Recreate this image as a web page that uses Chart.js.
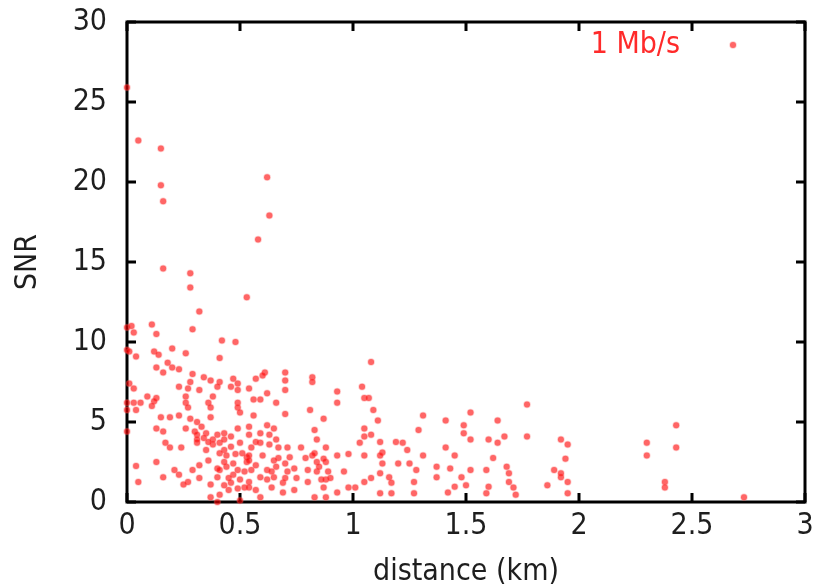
<!DOCTYPE html>
<html>
<head>
<meta charset="utf-8">
<title>SNR vs distance</title>
<script src="https://cdn.jsdelivr.net/npm/chart.js@4.4.1/dist/chart.umd.min.js"></script>
<style>
  html, body { margin: 0; padding: 0; background: #fff; }
  canvas { display: block; }
</style>
</head>
<body>
<canvas id="snrChart" width="817" height="587"></canvas>
<script>
// axis ticks
const xTicks = [0, 0.5, 1, 1.5, 2, 2.5, 3];
const yTicks = [0, 5, 10, 15, 20, 25, 30];
const seriesLabel = "1 Mb/s";

// distance (km)
const distanceKm = [
  0.00, 0.05, 0.15, 0.15, 0.16, 0.62, 0.63, 0.58, 0.16, 0.28, 0.28, 0.53, 0.32,
  0.00, 0.02, 0.03, 0.11, 0.13, 0.29, 0.42, 0.48, 0.20, 0.00, 0.01, 0.04, 0.12, 0.14, 0.26, 0.41,
  0.13, 0.18, 0.20, 0.16, 0.23, 0.29, 0.34, 0.28, 0.37, 0.41, 0.47, 0.23, 0.01, 0.03, 0.27, 0.32,
  0.40, 0.46, 0.49, 0.49, 0.09, 0.13, 0.26, 0.38, 0.00, 0.03, 0.06, 0.12, 0.26, 0.36, 0.49,
  0.11, 0.00, 0.04, 0.15, 0.19, 0.23, 0.27, 0.28, 0.37, 0.37, 0.31, 0.49, 0.50, 0.00, 0.13, 0.16,
  0.26, 0.30, 0.31, 0.33, 0.35, 0.40, 0.43, 0.46, 0.49, 0.50, 0.17, 0.19, 0.24, 0.31, 0.35, 0.38,
  0.41, 0.43, 0.44, 0.48, 0.36, 0.40, 0.41, 0.44, 0.47, 0.49, 0.53, 0.04, 0.13, 0.21, 0.23, 0.29,
  0.27, 0.32, 0.16, 0.05, 0.25, 0.37, 0.37, 0.45, 0.46, 0.50, 0.52, 0.40, 0.50, 0.41,
  0.31, 0.34, 0.38, 0.41, 0.46, 0.43, 0.47, 0.45, 0.51, 0.53, 0.40, 0.43, 0.49, 0.36, 0.43, 0.32,
  1.08, 0.61, 0.60, 0.57, 0.54, 0.70, 0.70, 0.70, 0.82, 0.82, 0.93, 0.93, 1.04, 1.05, 1.07, 0.56,
  0.59, 0.62, 0.66,
  0.56, 0.62, 0.70, 0.81, 0.87, 1.09, 0.54, 0.63, 0.65, 0.83, 0.84, 0.88, 0.59, 0.55, 0.67, 0.71,
  0.77, 1.03, 1.05, 1.05, 1.08, 1.05, 0.54, 0.60, 0.67, 0.72, 0.82, 0.84, 0.88, 0.93, 0.98, 0.55,
  0.62, 0.66, 0.71, 0.74, 0.84, 0.88, 0.96, 0.54, 0.62, 0.65, 0.69, 0.80, 0.86, 0.90, 0.98, 1.01,
  1.05, 0.54, 0.57, 0.59, 0.69, 0.83, 0.88, 0.93,
  0.54, 0.59, 0.57, 0.63, 0.66, 0.54, 0.57, 0.65, 0.70, 0.64, 0.59, 0.70, 0.64, 0.52, 0.85, 0.83,
  0.87, 0.89, 0.87, 0.79, 0.80, 0.75, 0.74,
  1.11, 1.31, 1.41, 1.29, 1.52, 1.49, 1.49, 1.52, 1.64, 1.67, 1.77, 1.77, 1.60, 1.64, 1.92, 1.95,
  1.12, 1.19, 1.22, 1.13, 1.12, 1.24, 1.31, 1.41, 1.45, 1.62, 1.13, 1.20, 1.25, 1.28, 1.37, 1.37,
  1.12, 1.16, 1.17, 1.27, 1.43, 1.48, 1.52, 1.50, 1.45, 1.59, 1.60, 1.59, 1.68, 1.69, 1.69, 1.71,
  1.72, 1.86, 1.89, 1.92, 1.95, 1.95, 1.42, 1.27, 1.12, 1.17, 1.08,
  1.94, 1.92, 2.30, 2.30, 2.38, 2.38, 2.43, 2.43, 2.73
];

// SNR, same order as distanceKm
const snrValues = [
  25.9, 22.6, 22.1, 19.8, 18.8, 20.3, 17.9, 16.4, 14.6, 14.3, 13.4, 12.8, 11.9,
  10.9, 11.0, 10.6, 11.1, 10.5, 10.8, 10.1, 10.0, 9.6, 9.5, 9.4, 9.1, 9.4, 9.2, 9.3, 9.0,
  8.4, 8.7, 8.4, 8.1, 8.3, 8.0, 7.8, 7.5, 7.6, 7.5, 7.7, 7.2, 7.4, 7.1, 7.1, 7.0,
  7.2, 7.2, 7.4, 7.0, 6.6, 6.5, 6.6, 6.6, 6.2, 6.2, 6.2, 6.3, 6.2, 6.2, 6.2,
  6.0, 5.75, 5.75, 5.3, 5.3, 5.4, 5.9, 5.2, 5.9, 5.3, 5.0, 5.9, 5.6, 4.4, 4.6, 4.4,
  4.6, 4.4, 4.2, 4.7, 4.3, 4.2, 4.3, 4.1, 4.6, 3.7, 3.7, 3.4, 3.4, 3.7, 3.25, 3.6,
  3.7, 3.25, 2.9, 3.0, 2.6, 2.1, 2.0, 2.2, 1.7, 2.0, 2.5, 2.25, 2.5, 2.0, 1.7, 2.0,
  1.25, 1.5, 1.55, 1.25, 1.1, 1.1, 0.3, 0.75, 1.2, 1.4, 0.9, 0.0, 0.1, 0.45,
  3.9, 4.0, 3.9, 3.05, 3.45, 2.5, 2.4, 1.5, 3.05, 2.8, 1.55, 1.05, 0.85, 3.75, 3.9, 2.3,
  8.75, 8.1, 7.9, 7.7, 7.1, 8.1, 7.6, 7.0, 7.8, 7.5, 6.9, 6.2, 7.2, 6.5, 6.5, 6.4,
  6.4, 6.8, 6.2,
  5.4, 4.8, 5.5, 5.75, 5.2, 5.75, 4.7, 4.2, 4.6, 4.5, 3.9, 3.4, 3.7, 3.4, 3.4, 3.4,
  3.4, 3.7, 4.1, 4.6, 4.2, 2.9, 2.9, 2.9, 2.75, 2.8, 2.9, 2.5, 2.5, 2.9, 3.0, 2.0,
  2.0, 2.2, 1.9, 2.1, 1.9, 1.4, 1.9, 1.25, 1.4, 1.55, 1.2, 1.25, 1.4, 1.5, 0.9, 0.9,
  1.25, 0.9, 0.75, 0.3, 0.6, 0.3, 0.3, 0.6,
  4.2, 4.3, 3.75, 3.6, 3.9, 2.6, 2.3, 2.6, 2.4, 1.9, 1.55, 1.5, 0.9, 1.9, 2.2, 3.05,
  2.7, 1.9, 0.9, 2.75, 2.0, 1.5, 0.75,
  5.1, 5.4, 5.1, 4.5, 5.6, 4.8, 4.3, 3.9, 5.1, 4.1, 6.1, 4.1, 3.9, 3.7, 3.9, 3.6,
  3.75, 3.75, 3.7, 3.1, 2.9, 3.25, 2.9, 3.4, 2.9, 2.75, 2.4, 2.4, 2.4, 2.0, 2.2, 1.55,
  1.8, 1.55, 1.2, 1.25, 2.1, 1.55, 2.0, 1.05, 0.95, 2.0, 0.95, 0.55, 2.2, 1.8, 1.25, 0.9,
  0.45, 1.05, 2.0, 1.55, 1.25, 0.55, 0.6, 0.55, 0.55, 0.55, 1.5,
  2.7, 1.8, 3.7, 2.9, 1.25, 0.9, 4.8, 3.4, 0.3
];

const FONT = "'Liberation Sans Narrow', 'DejaVu Sans Condensed', 'Liberation Sans', sans-serif";
const pointFill = "rgba(255, 0, 0, 0.6)";
const pointEdge = "rgba(255, 90, 90, 0.3)";

const points = distanceKm.map((d, i) => ({ x: d, y: snrValues[i] }));

// frame with inward ticks on all four sides, plus the gnuplot-style key
const framePlugin = {
  id: "frame",
  beforeDatasetsDraw(chart) {
    const { ctx, chartArea: a, scales } = chart;
    const tick = 9;
    ctx.save();
    ctx.strokeStyle = "#000";
    ctx.lineWidth = 3;
    ctx.beginPath();
    xTicks.forEach(v => {
      const px = scales.x.getPixelForValue(v);
      ctx.moveTo(px, a.bottom); ctx.lineTo(px, a.bottom - tick);
      ctx.moveTo(px, a.top); ctx.lineTo(px, a.top + tick);
    });
    yTicks.forEach(v => {
      const py = scales.y.getPixelForValue(v);
      ctx.moveTo(a.left, py); ctx.lineTo(a.left + tick, py);
      ctx.moveTo(a.right, py); ctx.lineTo(a.right - tick, py);
    });
    ctx.stroke();
    ctx.strokeRect(a.left, a.top, a.right - a.left, a.bottom - a.top);
    ctx.restore();
  },
  afterDraw(chart) {
    const { ctx, chartArea: a } = chart;
    const y = a.top + 23;
    ctx.save();
    ctx.font = "30px " + FONT;
    ctx.fillStyle = "#ff2a2a";
    ctx.textAlign = "right";
    ctx.textBaseline = "middle";
    ctx.fillText(seriesLabel, a.right - 125, y);
    ctx.beginPath();
    ctx.arc(a.right - 72, y, 3, 0, Math.PI * 2);
    ctx.fillStyle = pointFill;
    ctx.fill();
    ctx.strokeStyle = pointEdge;
    ctx.lineWidth = 1.5;
    ctx.stroke();
    ctx.restore();
  }
};

const ctx = document.getElementById("snrChart").getContext("2d");

new Chart(ctx, {
  type: "scatter",
  data: {
    datasets: [
      {
        label: seriesLabel,
        data: points,
        pointRadius: 3,
        pointBackgroundColor: pointFill,
        pointBorderColor: pointEdge,
        pointBorderWidth: 1.5,
        clip: 6
      }
    ]
  },
  options: {
    responsive: false,
    animation: false,
    devicePixelRatio: 1,
    layout: { padding: { top: 22, right: 12, left: 0, bottom: 0 } },
    plugins: {
      legend: { display: false },
      tooltip: { enabled: false }
    },
    scales: {
      x: {
        type: "linear",
        min: 0,
        max: 3,
        afterBuildTicks: scale => { scale.ticks = xTicks.map(v => ({ value: v })); },
        afterFit: scale => {
          scale.height = 85;
          scale.paddingLeft = 0;
          scale.paddingRight = 0;
        },
        grid: { display: false, drawTicks: false },
        border: { display: false },
        ticks: {
          color: "#1e1e1e",
          font: { family: FONT, size: 30 },
          padding: 6,
          maxRotation: 0,
          autoSkip: false,
          callback: v => String(v)
        },
        title: {
          display: true,
          text: "distance (km)",
          color: "#1e1e1e",
          font: { family: FONT, size: 30, lineHeight: 1 },
          padding: { top: 0, bottom: 0 }
        }
      },
      y: {
        type: "linear",
        min: 0,
        max: 30,
        afterBuildTicks: scale => { scale.ticks = yTicks.map(v => ({ value: v })); },
        afterFit: scale => {
          scale.width = 127;
          scale.paddingTop = 0;
          scale.paddingBottom = 0;
        },
        grid: { display: false, drawTicks: false },
        border: { display: false },
        ticks: {
          color: "#1e1e1e",
          font: { family: FONT, size: 30 },
          padding: 20,
          autoSkip: false,
          callback: v => String(v)
        },
        title: {
          display: true,
          text: "SNR",
          color: "#1e1e1e",
          font: { family: FONT, size: 30, lineHeight: 1.2 },
          padding: { top: 10, bottom: 0 }
        }
      }
    }
  },
  plugins: [framePlugin]
});
</script>
</body>
</html>
